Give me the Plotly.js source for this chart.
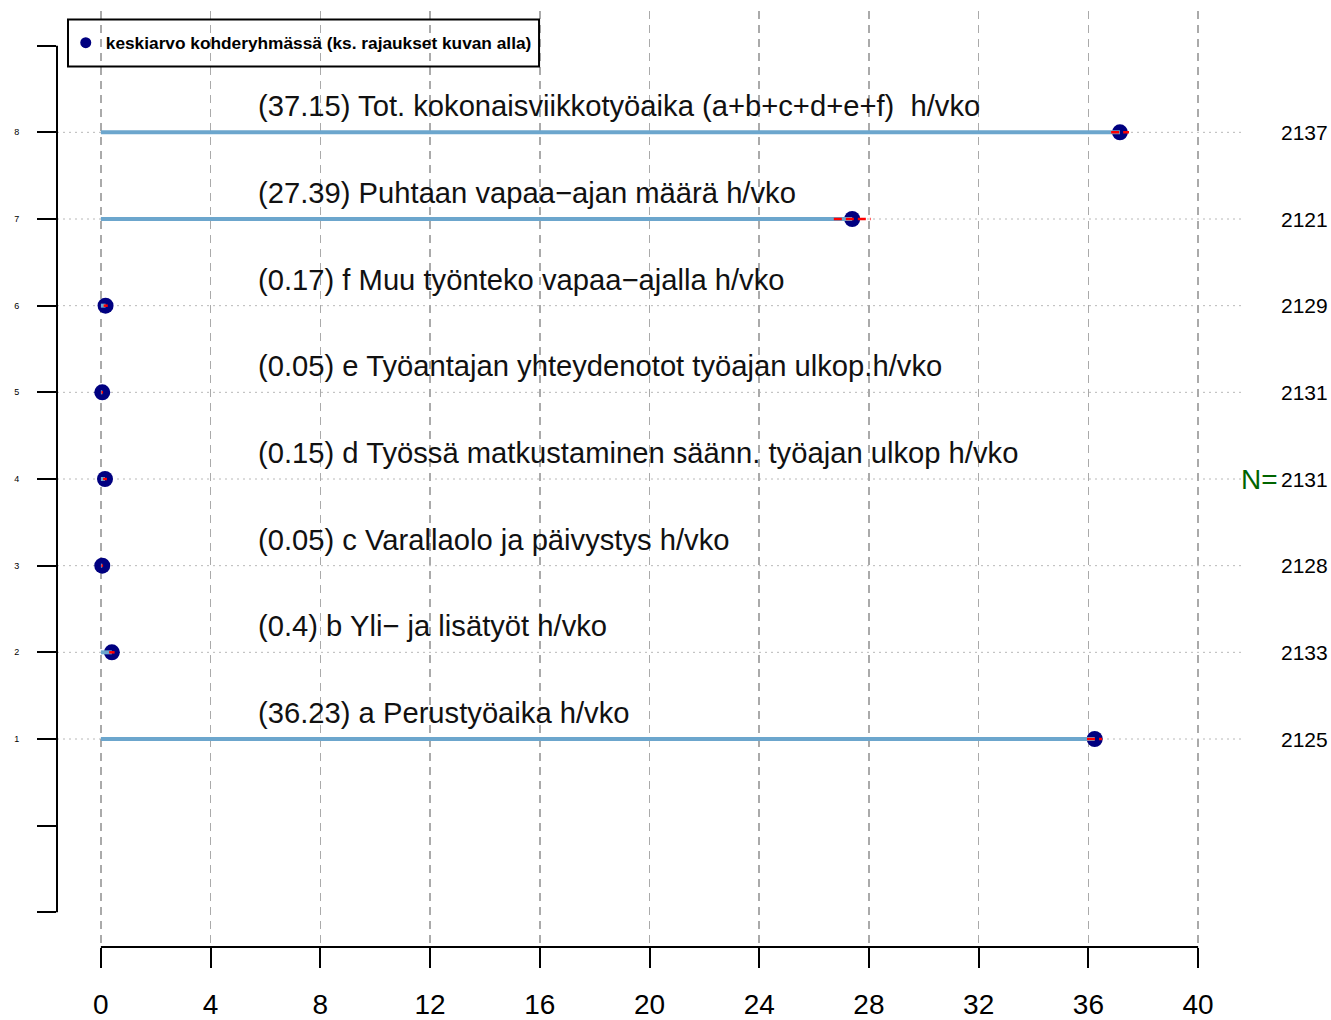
<!DOCTYPE html>
<html>
<head>
<meta charset="utf-8">
<script src="https://cdn.plot.ly/plotly-3.0.1.min.js"></script>
<style>html,body{margin:0;padding:0;background:#fff;}</style>
</head>
<body>
<div id="chart" style="width:1331px;height:1020px;"></div>
<script>
// ---- data ----
const yPos = [1, 2, 3, 4, 5, 6, 7, 8];
const itemNames = [
  "a Perustyöaika h/vko",
  "b Yli\u2212 ja lisätyöt h/vko",
  "c Varallaolo ja päivystys h/vko",
  "d Työssä matkustaminen säänn. työajan ulkop h/vko",
  "e Työantajan yhteydenotot työajan ulkop.h/vko",
  "f Muu työnteko vapaa\u2212ajalla h/vko",
  "Puhtaan vapaa\u2212ajan määrä h/vko",
  "Tot. kokonaisviikkotyöaika (a+b+c+d+e+f) \u00a0h/vko"
];
const means = [36.23, 0.4, 0.05, 0.15, 0.05, 0.17, 27.39, 37.15];
const ciLow = [35.95, 0.30, 0.02, 0.08, 0.02, 0.10, 26.72, 36.83];
const ciHigh = [36.50, 0.50, 0.08, 0.22, 0.08, 0.25, 28.06, 37.48];
const nValues = [2125, 2133, 2128, 2131, 2131, 2129, 2121, 2137];
const xTicks = [0, 4, 8, 12, 16, 20, 24, 28, 32, 36, 40];
const yTicks = [-1, 0, 1, 2, 3, 4, 5, 6, 7, 8, 9];
const yTickText = ["", "", "1", "2", "3", "4", "5", "6", "7", "8", ""];
const legendLabel = "keskiarvo kohderyhmässä (ks. rajaukset kuvan alla)";
const nPrefix = "N=";

// ---- build traces ----
const lineX = [], lineY = [], ciX = [], ciY = [];
for (let i = 0; i < yPos.length; i++) {
  lineX.push(0, means[i], null); lineY.push(yPos[i], yPos[i], null);
  ciX.push(ciLow[i], ciHigh[i], null); ciY.push(yPos[i], yPos[i], null);
}

const traces = [
  {
    x: means, y: yPos, type: "scatter", mode: "markers",
    marker: {color: "#000080", size: 16}, showlegend: false, hoverinfo: "x+y"
  },
  {
    x: lineX, y: lineY, type: "scatter", mode: "lines",
    line: {color: "#6CA6CD", width: 4}, showlegend: false, hoverinfo: "skip"
  },
  {
    x: ciX, y: ciY, type: "scatter", mode: "lines",
    line: {color: "#ff0000", width: 2.5, dash: "8px,4px"}, showlegend: false, hoverinfo: "skip"
  },
  {
    x: [null], y: [null], type: "scatter", mode: "markers",
    marker: {color: "#000080", size: 11}, name: legendLabel, showlegend: true
  }
];

// ---- shapes & annotations ----
const shapes = [];
yPos.forEach(function (y) {
  shapes.push({type: "line", xref: "paper", yref: "y", x0: 0, x1: 1, y0: y, y1: y,
    line: {color: "#b8b8b8", width: 1, dash: "2px,4px"}, layer: "below"});
});
shapes.push({type: "line", xref: "x", yref: "paper", x0: xTicks[0], x1: xTicks[xTicks.length - 1], y0: 0, y1: 0,
  line: {color: "#000", width: 2}, layer: "above"});
shapes.push({type: "line", xref: "paper", yref: "y", x0: 0, x1: 0, y0: yTicks[0], y1: yTicks[yTicks.length - 1],
  line: {color: "#000", width: 2}, layer: "above"});
// legend frame
shapes.push({type: "rect", xref: "paper", yref: "paper",
  x0: 0.00928, x1: 0.4068, y0: 0.9408, y1: 0.991,
  line: {color: "#000", width: 2}, fillcolor: "rgba(0,0,0,0)", layer: "above"});

const annotations = [];
for (let i = 0; i < yPos.length; i++) {
  annotations.push({
    x: 5.65, y: yPos[i], xref: "x", yref: "y", xanchor: "left", yanchor: "middle",
    yshift: 26, showarrow: false,
    text: "(" + means[i] + ") " + itemNames[i],
    font: {family: "Liberation Sans, Arial, sans-serif", size: 29.2, color: "#111"}
  });
  annotations.push({
    x: 1.0726, y: yPos[i], xref: "paper", yref: "y", xanchor: "right", yanchor: "middle",
    xshift: 2, showarrow: false, text: String(nValues[i]),
    font: {family: "Liberation Sans, Arial, sans-serif", size: 21, color: "#000"}
  });
}
annotations.push({
  x: 1.0295, y: 4, xref: "paper", yref: "y", xanchor: "right", yanchor: "middle",
  xshift: 3, showarrow: false, text: nPrefix,
  font: {family: "Liberation Sans, Arial, sans-serif", size: 28, color: "#006400"}
});

const layout = {
  width: 1331, height: 1020,
  margin: {l: 57, r: 89, t: 11, b: 73, pad: 0},
  paper_bgcolor: "#fff", plot_bgcolor: "#fff",
  font: {family: "Liberation Sans, Arial, sans-serif", color: "#000"},
  xaxis: {
    range: [-1.6, 41.6], tickmode: "array", tickvals: xTicks,
    ticks: "outside", ticklen: 20, tickwidth: 2, tickcolor: "#000",
    showline: false, zeroline: false,
    showgrid: true, gridcolor: "#aaaaaa", gridwidth: 1.5, griddash: "8px,6px",
    tickfont: {size: 28, color: "#000"}, ticklabelstandoff: 12, fixedrange: true
  },
  yaxis: {
    range: [-1.4, 9.4], tickmode: "array", tickvals: yTicks, ticktext: yTickText,
    ticks: "outside", ticklen: 19, tickwidth: 2, tickcolor: "#000",
    showline: false, zeroline: false, showgrid: false,
    tickfont: {size: 9, color: "#000"}, ticklabelstandoff: 16, fixedrange: true
  },
  showlegend: true,
  legend: {
    x: 0.0074, y: 0.9659, xanchor: "left", yanchor: "middle",
    bgcolor: "rgba(0,0,0,0)", borderwidth: 0,
    font: {size: 17.3, color: "#000", weight: "bold"}
  },
  shapes: shapes,
  annotations: annotations
};

Plotly.newPlot("chart", traces, layout, {displayModeBar: false, staticPlot: true});
</script>
</body>
</html>
